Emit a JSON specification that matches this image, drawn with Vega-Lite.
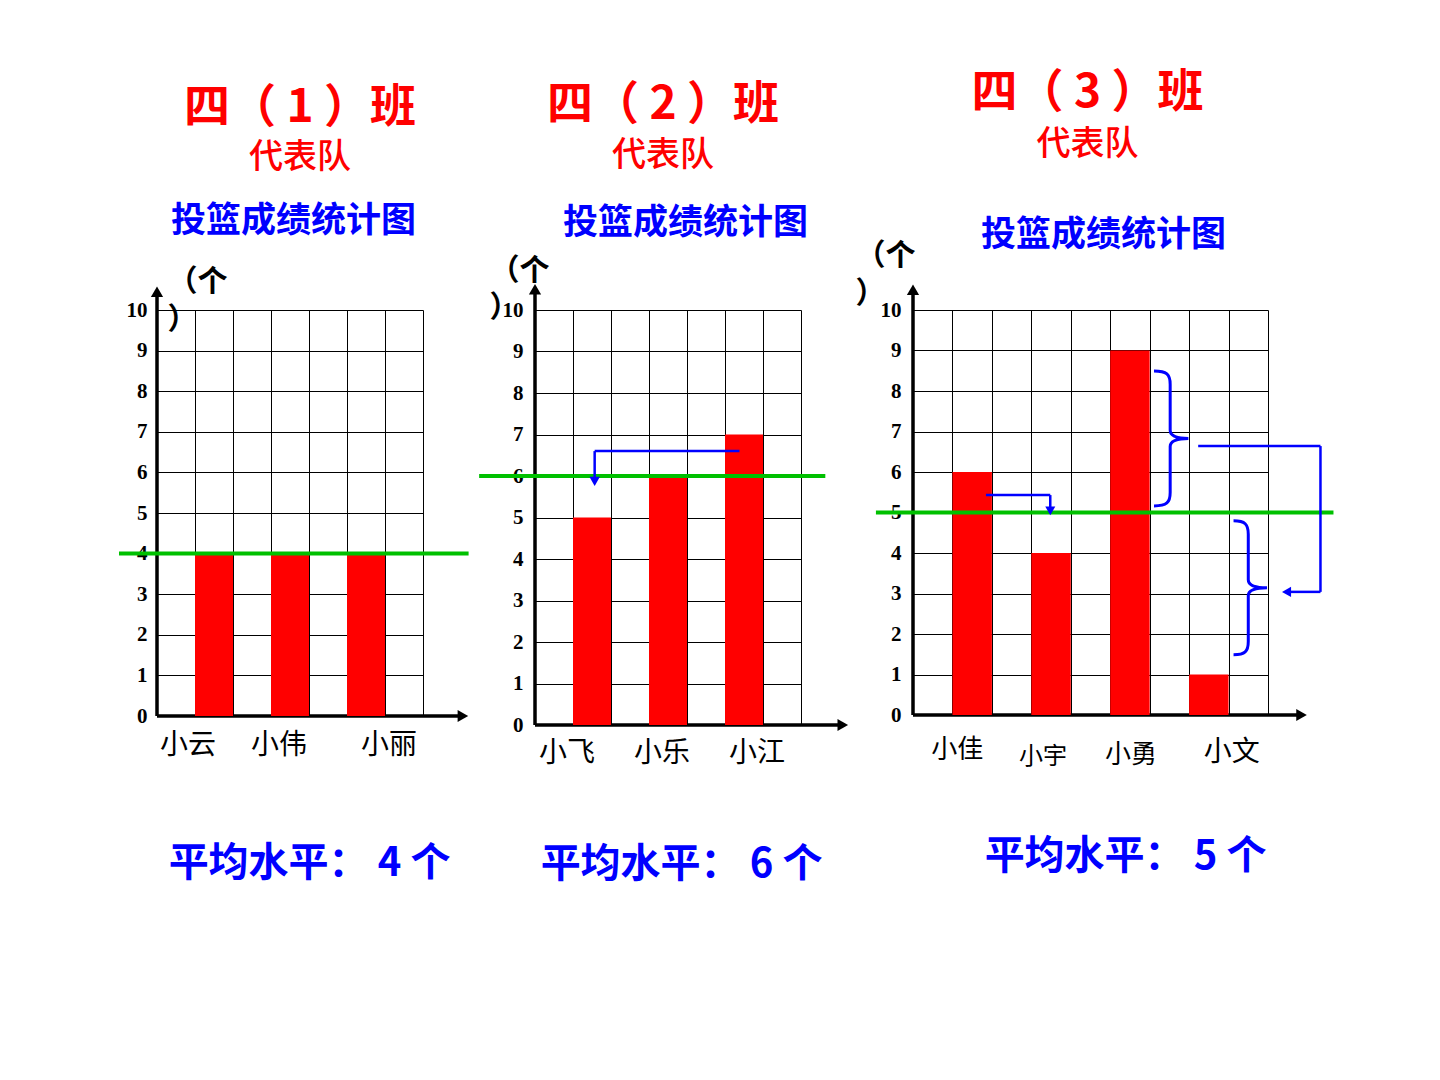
{
  "$schema": "https://vega.github.io/schema/vega-lite/v6.json",
  "background": "white",
  "padding": {"left": 117, "top": 70, "right": 0, "bottom": 0},
  "bounds": "flush",
  "spacing": 112,
  "config": {"view": {"stroke": null}, "font": "Noto Sans CJK SC"},
  "hconcat": [
    {
      "width": 266, "height": 406,
      "title": {"text": "四（ 1 ）班", "subtitle": "代表队", "font": "Noto Sans CJK SC", "fontSize": 46, "fontWeight": "bold", "color": "#FF0000", "subtitleFont": "Noto Sans CJK SC", "subtitleFontSize": 34, "subtitleFontWeight": 500, "subtitleColor": "#FF0000", "subtitlePadding": 9, "offset": 27, "anchor": "middle", "dx": 10},
      "data": {"values": [{"name": "小云", "count": 4}, {"name": "小伟", "count": 4}, {"name": "小丽", "count": 4}]},
      "resolve": {"scale": {"x": "independent"}, "axis": {"x": "independent"}},
      "layer": [
        {
          "data": {"values": [{}]},
          "layer": [
            {"mark": {"type": "rule", "color": "black", "strokeWidth": 3.5},
             "encoding": {
               "x": {"datum": 0, "type": "quantitative", "scale": {"domain": [0, 7], "nice": false, "zero": false},
                     "axis": {"orient": "top", "values": [0,1,2,3,4,5,6,7], "tickCount": 20, "grid": true, "gridColor": "black", "gridWidth": 1, "gridOpacity": 1, "labels": false, "ticks": false, "domain": false, "title": "投篮成绩统计图", "titleFont": "Noto Sans CJK SC", "titleFontSize": 35, "titleFontWeight": "bold", "titleColor": "#0000FF", "titlePadding": 72, "titleX": 136, "titleAlign": "center"}},
               "y": {"datum": 0, "type": "quantitative", "scale": {"domain": [0, 10], "nice": false},
                     "axis": {"orient": "left", "values": [0,1,2,3,4,5,6,7,8,9,10], "format": "d", "grid": true, "gridColor": "black", "gridWidth": 1, "gridOpacity": 1, "ticks": false, "domain": false, "labelFont": "Liberation Serif", "labelFontWeight": "bold", "labelFontSize": 21, "labelColor": "black", "labelPadding": 10, "title": ["（个", "）"], "titleFont": "Noto Sans CJK SC", "titleFontSize": 30, "titleFontWeight": "bold", "titleColor": "black", "titleAngle": 0, "titleAlign": "left", "titleBaseline": "top", "titleX": 10, "titleY": -44, "titleLineHeight": 38}},
               "y2": {"datum": 10.4}
             }},
            {"mark": {"type": "point", "shape": "triangle-up", "filled": true, "color": "black", "size": 150, "opacity": 1},
             "encoding": {"x": {"datum": 0, "type": "quantitative"}, "y": {"datum": 10.45, "type": "quantitative"}}},
            {"mark": {"type": "rule", "color": "black", "strokeWidth": 3.5},
             "encoding": {"x": {"datum": 0, "type": "quantitative"}, "x2": {"datum": 7.96}, "y": {"datum": 0, "type": "quantitative"}}},
            {"mark": {"type": "point", "shape": "triangle-right", "filled": true, "color": "black", "size": 150, "opacity": 1},
             "encoding": {"x": {"datum": 8.05, "type": "quantitative"}, "y": {"datum": 0, "type": "quantitative"}}}
          ]
        },
        {
          "mark": {"type": "bar", "color": "#FF0000"},
          "encoding": {
            "x": {"field": "name", "type": "nominal", "sort": null, "scale": {"paddingInner": 0.5, "paddingOuter": 0.5},
                  "axis": {"orient": "bottom", "domain": false, "ticks": false, "labelAngle": 0, "labelFont": "Noto Sans CJK SC", "labelFontSize": 28, "labelColor": "black", "labelPadding": 15,
                           "labelOffset": {"condition": [{"test": "datum.value === '小云'", "value": -26}, {"test": "datum.value === '小丽'", "value": 23}], "value": -11},
                           "title": "平均水平： 4 个", "titleFont": "Noto Sans CJK SC", "titleFontSize": 40, "titleFontWeight": "bold", "titleColor": "#0000FF", "titlePadding": 84, "titleX": 152, "titleAlign": "center"}},
            "y": {"field": "count", "type": "quantitative"}
          }
        },
        {
          "data": {"values": [{}]},
          "layer": [
            {"mark": {"type": "rule", "color": "#00C000", "strokeWidth": 4},
             "encoding": {"x": {"datum": -1, "type": "quantitative", "scale": {"domain": [0, 7], "nice": false, "zero": false}, "axis": null}, "x2": {"datum": 8.2}, "y": {"datum": 4, "type": "quantitative"}}}
          ]
        }
      ]
    },
    {
      "width": 266, "height": 415,
      "title": {"text": "四（ 2 ）班", "subtitle": "代表队", "font": "Noto Sans CJK SC", "fontSize": 46, "fontWeight": "bold", "color": "#FF0000", "subtitleFont": "Noto Sans CJK SC", "subtitleFontSize": 34, "subtitleFontWeight": 500, "subtitleColor": "#FF0000", "subtitlePadding": 10, "offset": 31, "anchor": "middle", "dx": -5},
      "data": {"values": [{"name": "小飞", "count": 5}, {"name": "小乐", "count": 6}, {"name": "小江", "count": 7}]},
      "resolve": {"scale": {"x": "independent"}, "axis": {"x": "independent"}},
      "layer": [
        {
          "data": {"values": [{}]},
          "layer": [
            {"mark": {"type": "rule", "color": "black", "strokeWidth": 3.5},
             "encoding": {
               "x": {"datum": 0, "type": "quantitative", "scale": {"domain": [0, 7], "nice": false, "zero": false},
                     "axis": {"orient": "top", "values": [0,1,2,3,4,5,6,7], "tickCount": 20, "grid": true, "gridColor": "black", "gridWidth": 1, "gridOpacity": 1, "labels": false, "ticks": false, "domain": false, "title": "投篮成绩统计图", "titleFont": "Noto Sans CJK SC", "titleFontSize": 35, "titleFontWeight": "bold", "titleColor": "#0000FF", "titlePadding": 70, "titleX": 150, "titleAlign": "center"}},
               "y": {"datum": 0, "type": "quantitative", "scale": {"domain": [0, 10], "nice": false},
                     "axis": {"orient": "left", "values": [0,1,2,3,4,5,6,7,8,9,10], "format": "d", "grid": true, "gridColor": "black", "gridWidth": 1, "gridOpacity": 1, "ticks": false, "domain": false, "labelFont": "Liberation Serif", "labelFontWeight": "bold", "labelFontSize": 21, "labelColor": "black", "labelPadding": 12, "title": ["（个", "）"], "titleFont": "Noto Sans CJK SC", "titleFontSize": 30, "titleFontWeight": "bold", "titleColor": "black", "titleAngle": 0, "titleAlign": "left", "titleBaseline": "top", "titleX": -46, "titleY": -55, "titleLineHeight": 37}},
               "y2": {"datum": 10.45}
             }},
            {"mark": {"type": "point", "shape": "triangle-up", "filled": true, "color": "black", "size": 150, "opacity": 1},
             "encoding": {"x": {"datum": 0, "type": "quantitative"}, "y": {"datum": 10.5, "type": "quantitative"}}},
            {"mark": {"type": "rule", "color": "black", "strokeWidth": 3.5},
             "encoding": {"x": {"datum": 0, "type": "quantitative"}, "x2": {"datum": 8.0}, "y": {"datum": 0, "type": "quantitative"}}},
            {"mark": {"type": "point", "shape": "triangle-right", "filled": true, "color": "black", "size": 150, "opacity": 1},
             "encoding": {"x": {"datum": 8.1, "type": "quantitative"}, "y": {"datum": 0, "type": "quantitative"}}}
          ]
        },
        {
          "mark": {"type": "bar", "color": "#FF0000"},
          "encoding": {
            "x": {"field": "name", "type": "nominal", "sort": null, "scale": {"paddingInner": 0.5, "paddingOuter": 0.5},
                  "axis": {"orient": "bottom", "domain": false, "ticks": false, "labelAngle": 0, "labelFont": "Noto Sans CJK SC", "labelFontSize": 28, "labelColor": "black", "labelPadding": 14,
                           "labelOffset": {"condition": [{"test": "datum.value === '小飞'", "value": -25}, {"test": "datum.value === '小江'", "value": 13}], "value": -6},
                           "title": "平均水平： 6 个", "titleFont": "Noto Sans CJK SC", "titleFontSize": 40, "titleFontWeight": "bold", "titleColor": "#0000FF", "titlePadding": 77, "titleX": 146, "titleAlign": "center"}},
            "y": {"field": "count", "type": "quantitative"}
          }
        },
        {
          "data": {"values": [{}]},
          "layer": [
            {"mark": {"type": "rule", "color": "#00C000", "strokeWidth": 4},
             "encoding": {"x": {"datum": -1.47, "type": "quantitative", "scale": {"domain": [0, 7], "nice": false, "zero": false}, "axis": null}, "x2": {"datum": 7.64}, "y": {"datum": 6, "type": "quantitative"}}},
            {"mark": {"type": "rule", "color": "#0000FF", "strokeWidth": 2.5},
             "encoding": {"x": {"datum": 1.57, "type": "quantitative"}, "x2": {"datum": 5.38}, "y": {"datum": 6.6, "type": "quantitative"}}},
            {"mark": {"type": "rule", "color": "#0000FF", "strokeWidth": 2.5},
             "encoding": {"x": {"datum": 1.57, "type": "quantitative"}, "y": {"datum": 5.95, "type": "quantitative"}, "y2": {"datum": 6.6}}},
            {"mark": {"type": "point", "shape": "triangle-down", "filled": true, "color": "#0000FF", "size": 110, "opacity": 1},
             "encoding": {"x": {"datum": 1.57, "type": "quantitative"}, "y": {"datum": 5.87, "type": "quantitative"}}}
          ]
        }
      ]
    },
    {
      "width": 355, "height": 405,
      "title": {"text": "四（ 3 ）班", "subtitle": "代表队", "font": "Noto Sans CJK SC", "fontSize": 46, "fontWeight": "bold", "color": "#FF0000", "subtitleFont": "Noto Sans CJK SC", "subtitleFontSize": 34, "subtitleFontWeight": 500, "subtitleColor": "#FF0000", "subtitlePadding": 11, "offset": 54, "anchor": "middle", "dx": -3},
      "data": {"values": [{"name": "小佳", "count": 6}, {"name": "小宇", "count": 4}, {"name": "小勇", "count": 9}, {"name": "小文", "count": 1}]},
      "resolve": {"scale": {"x": "independent"}, "axis": {"x": "independent"}},
      "layer": [
        {
          "data": {"values": [{}]},
          "layer": [
            {"mark": {"type": "rule", "color": "black", "strokeWidth": 3.5},
             "encoding": {
               "x": {"datum": 0, "type": "quantitative", "scale": {"domain": [0, 9], "nice": false, "zero": false},
                     "axis": {"orient": "top", "values": [0,1,2,3,4,5,6,7,8,9], "tickCount": 20, "grid": true, "gridColor": "black", "gridWidth": 1, "gridOpacity": 1, "labels": false, "ticks": false, "domain": false, "title": "投篮成绩统计图", "titleFont": "Noto Sans CJK SC", "titleFontSize": 35, "titleFontWeight": "bold", "titleColor": "#0000FF", "titlePadding": 58, "titleX": 190, "titleAlign": "center"}},
               "y": {"datum": 0, "type": "quantitative", "scale": {"domain": [0, 10], "nice": false},
                     "axis": {"orient": "left", "values": [0,1,2,3,4,5,6,7,8,9,10], "format": "d", "grid": true, "gridColor": "black", "gridWidth": 1, "gridOpacity": 1, "ticks": false, "domain": false, "labelFont": "Liberation Serif", "labelFontWeight": "bold", "labelFontSize": 21, "labelColor": "black", "labelPadding": 12, "title": ["（个", "）"], "titleFont": "Noto Sans CJK SC", "titleFontSize": 30, "titleFontWeight": "bold", "titleColor": "black", "titleAngle": 0, "titleAlign": "left", "titleBaseline": "top", "titleX": -58, "titleY": -70, "titleLineHeight": 38}},
               "y2": {"datum": 10.45}
             }},
            {"mark": {"type": "point", "shape": "triangle-up", "filled": true, "color": "black", "size": 150, "opacity": 1},
             "encoding": {"x": {"datum": 0, "type": "quantitative"}, "y": {"datum": 10.5, "type": "quantitative"}}},
            {"mark": {"type": "rule", "color": "black", "strokeWidth": 3.5},
             "encoding": {"x": {"datum": 0, "type": "quantitative"}, "x2": {"datum": 9.75}, "y": {"datum": 0, "type": "quantitative"}}},
            {"mark": {"type": "point", "shape": "triangle-right", "filled": true, "color": "black", "size": 150, "opacity": 1},
             "encoding": {"x": {"datum": 9.85, "type": "quantitative"}, "y": {"datum": 0, "type": "quantitative"}}}
          ]
        },
        {
          "mark": {"type": "bar", "color": "#FF0000"},
          "encoding": {
            "x": {"field": "name", "type": "nominal", "sort": null, "scale": {"paddingInner": 0.5, "paddingOuter": 0.5},
                  "axis": {"orient": "bottom", "domain": false, "ticks": false, "labelAngle": 0, "labelFont": "Noto Sans CJK SC", "labelColor": "black",
                           "labelFontSize": {"condition": [{"test": "datum.value === '小宇'", "value": 24}, {"test": "datum.value === '小文'", "value": 28}], "value": 26},
                           "labelPadding": {"condition": [{"test": "datum.value === '小佳'", "value": 21}, {"test": "datum.value === '小宇'", "value": 29}, {"test": "datum.value === '小勇'", "value": 26}], "value": 23},
                           "labelOffset": {"condition": [{"test": "datum.value === '小佳'", "value": -15}, {"test": "datum.value === '小宇'", "value": -8}, {"test": "datum.value === '小文'", "value": 23}], "value": 1},
                           "title": "平均水平： 5 个", "titleFont": "Noto Sans CJK SC", "titleFontSize": 40, "titleFontWeight": "bold", "titleColor": "#0000FF", "titlePadding": 68, "titleX": 212, "titleAlign": "center"}},
            "y": {"field": "count", "type": "quantitative"}
          }
        },
        {
          "data": {"values": [{}]},
          "layer": [
            {"mark": {"type": "rule", "color": "#00C000", "strokeWidth": 4},
             "encoding": {"x": {"datum": -0.94, "type": "quantitative", "scale": {"domain": [0, 9], "nice": false, "zero": false}, "axis": null}, "x2": {"datum": 10.66}, "y": {"datum": 5, "type": "quantitative"}}},
            {"mark": {"type": "rule", "color": "#0000FF", "strokeWidth": 2.5},
             "encoding": {"x": {"datum": 1.85, "type": "quantitative"}, "x2": {"datum": 3.48}, "y": {"datum": 5.43, "type": "quantitative"}}},
            {"mark": {"type": "rule", "color": "#0000FF", "strokeWidth": 2.5},
             "encoding": {"x": {"datum": 3.48, "type": "quantitative"}, "y": {"datum": 5.12, "type": "quantitative"}, "y2": {"datum": 5.43}}},
            {"mark": {"type": "point", "shape": "triangle-down", "filled": true, "color": "#0000FF", "size": 100, "opacity": 1},
             "encoding": {"x": {"datum": 3.48, "type": "quantitative"}, "y": {"datum": 5.04, "type": "quantitative"}}},
            {"mark": {"type": "point", "shape": "M -0.24 -1 C -0.05 -1 0 -0.95 0 -0.8 L 0 -0.12 C 0 -0.03 0.1 0 0.27 0 C 0.1 0 0 0.03 0 0.12 L 0 0.8 C 0 0.95 -0.05 1 -0.24 1", "filled": false, "color": "#0000FF", "strokeWidth": 3, "size": 18225, "opacity": 1},
             "encoding": {"x": {"datum": 6.52, "type": "quantitative"}, "y": {"datum": 6.83, "type": "quantitative"}}},
            {"mark": {"type": "point", "shape": "M -0.22 -1 C -0.05 -1 0 -0.95 0 -0.8 L 0 -0.12 C 0 -0.03 0.1 0 0.28 0 C 0.1 0 0 0.03 0 0.12 L 0 0.8 C 0 0.95 -0.05 1 -0.22 1", "filled": false, "color": "#0000FF", "strokeWidth": 3, "size": 17956, "opacity": 1},
             "encoding": {"x": {"datum": 8.5, "type": "quantitative"}, "y": {"datum": 3.14, "type": "quantitative"}}},
            {"mark": {"type": "rule", "color": "#0000FF", "strokeWidth": 2.5},
             "encoding": {"x": {"datum": 7.23, "type": "quantitative"}, "x2": {"datum": 10.33}, "y": {"datum": 6.64, "type": "quantitative"}}},
            {"mark": {"type": "rule", "color": "#0000FF", "strokeWidth": 2.5},
             "encoding": {"x": {"datum": 10.33, "type": "quantitative"}, "y": {"datum": 3.04, "type": "quantitative"}, "y2": {"datum": 6.64}}},
            {"mark": {"type": "rule", "color": "#0000FF", "strokeWidth": 2.5},
             "encoding": {"x": {"datum": 9.55, "type": "quantitative"}, "x2": {"datum": 10.33}, "y": {"datum": 3.04, "type": "quantitative"}}},
            {"mark": {"type": "point", "shape": "triangle-left", "filled": true, "color": "#0000FF", "size": 110, "opacity": 1},
             "encoding": {"x": {"datum": 9.47, "type": "quantitative"}, "y": {"datum": 3.04, "type": "quantitative"}}}
          ]
        }
      ]
    }
  ]
}
